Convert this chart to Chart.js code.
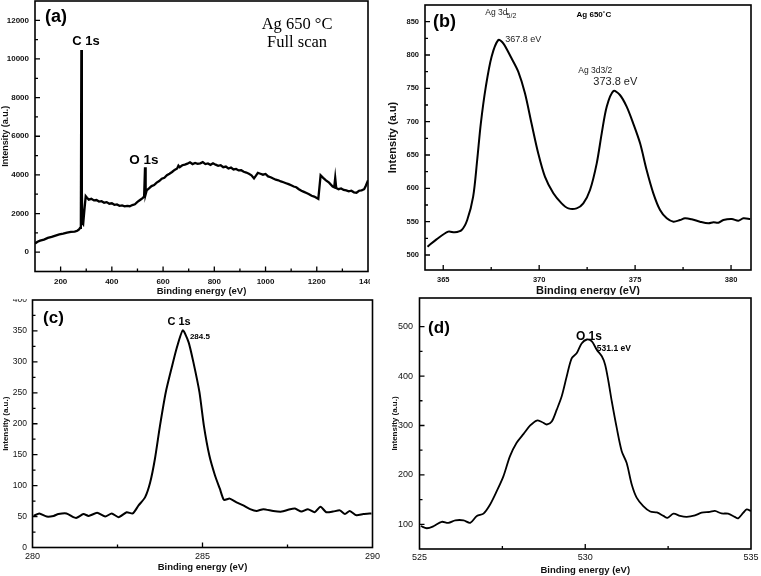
<!DOCTYPE html>
<html>
<head>
<meta charset="utf-8">
<script src="https://cdn.jsdelivr.net/npm/chart.js@4.4.1/dist/chart.umd.min.js"></script>
<style>
  html,body{margin:0;padding:0;background:#fff;width:761px;height:576px;overflow:hidden;}
  canvas{position:absolute;left:0;top:0;}
  #ca{clip-path: inset(0 391px 0 0);}
  #cb{clip-path: inset(0 0 281.5px 0);}
  #cc{clip-path: inset(299.5px 0 0 0);}
</style>
</head>
<body>
<canvas id="ca" width="761" height="576"></canvas>
<canvas id="cb" width="761" height="576"></canvas>
<canvas id="cc" width="761" height="576"></canvas>
<canvas id="cd" width="761" height="576"></canvas>
<script>
// ---------- Panel (a): full scan ----------
const energyA = [100,110,120,135,150,165,180,195,210,225,240,255,265,272,276,279,281,283,285,288,293,298,303,310,320,330,340,350,360,370,380,390,400,410,420,430,440,450,460,470,480,490,500,510,520,526,529.5,532,536,545,555,565,575,585,595,605,615,625,635,645,655,660,665,675,685,695,705,715,725,735,745,755,765,775,785,795,805,815,825,835,845,855,865,875,885,895,905,915,925,935,945,955,962,970,980,990,1000,1010,1020,1030,1040,1050,1060,1070,1080,1090,1100,1110,1120,1130,1140,1150,1160,1170,1180,1190,1200,1206,1215,1225,1236,1248,1262,1268,1272,1276,1285,1295,1305,1315,1325,1335,1345,1355,1365,1375,1385,1392,1400];
const intensityA = [450,540,600,650,740,790,860,920,960,1010,1050,1060,1110,1180,1260,1400,10460,3000,1500,1450,2200,2900,2820,2720,2760,2680,2700,2620,2640,2560,2590,2510,2530,2450,2470,2400,2420,2370,2400,2380,2440,2480,2600,2700,2800,2880,4400,3000,3200,3300,3420,3470,3600,3680,3800,3850,3980,4060,4150,4260,4330,4480,4400,4500,4530,4580,4650,4560,4620,4570,4600,4660,4560,4590,4520,4600,4530,4470,4500,4400,4430,4330,4380,4280,4310,4230,4240,4160,4120,4060,3980,3820,3950,4100,4060,4010,4050,3920,3880,3810,3750,3720,3660,3620,3570,3520,3460,3400,3360,3260,3180,3120,3060,3000,2920,2880,2800,2760,3980,3850,3720,3600,3400,3360,3850,3320,3260,3300,3220,3200,3150,3180,3100,3080,3180,3200,3260,3450,3720];
const xTicksA = [200,400,600,800,1000,1200,1400];
const yTicksA = [0,2000,4000,6000,8000,10000,12000];

// ---------- Panel (b): Ag 3d ----------
const energyB = [364.18,364.65,365.26,365.6,365.96,366.25,366.56,366.77,366.96,367.22,367.52,367.87,368.13,368.56,368.91,369.26,369.6,369.95,370.3,370.74,371.17,371.52,371.95,372.3,372.65,373.0,373.26,373.52,373.87,374.21,374.56,374.9,375.26,375.6,375.95,376.3,376.65,377.0,377.34,377.6,377.95,378.38,378.82,379.08,379.34,379.6,380.04,380.38,380.64,381.0];
const intensityB = [512.5,523.5,535,534,537.5,552.5,587.5,642.5,697.5,752.5,797.5,822.5,817.5,795,775,742.5,697.5,652.5,617.5,592.5,577.5,570,570,577.5,597.5,637.5,682.5,722.5,746,740,722.5,697.5,667.5,627.5,592.5,567.5,555,550,552.5,555,553.5,550,547.5,549,548.5,552.5,554,551.5,555,554];
const xTicksB = [365,370,375,380];
const yTicksB = [500,550,600,650,700,750,800,850];

// ---------- Panel (c): C 1s ----------
const energyC = [280.03,280.2,280.42,280.62,280.76,281.0,281.2,281.3,281.5,281.65,281.9,282.14,282.33,282.53,282.77,282.95,283.12,283.31,283.46,283.6,283.75,283.92,284.1,284.24,284.42,284.59,284.73,284.91,285.04,285.2,285.37,285.51,285.63,285.8,286.0,286.2,286.4,286.59,286.79,287.08,287.33,287.52,287.72,287.91,288.1,288.3,288.47,288.64,288.84,289.04,289.19,289.33,289.53,289.73,289.97];
const intensityC = [51,55,50,51,54,55,49,48,54,51,56,50,55,49,57,55,68,81,105,143,197,251,292,322,351,332,300,251,197,149,116,95,77,79,73,68,62,59,62,59,58,61,63,58,62,57,66,57,58,60,54,59,52,54,55];
const xTicksC = [280,285,290];
const yTicksC = [0,50,100,150,200,250,300,350,400];

// ---------- Panel (d): O 1s ----------
const energyD = [525.04,525.22,525.42,525.67,525.87,526.08,526.33,526.53,526.73,526.93,527.13,527.33,527.53,527.73,527.93,528.14,528.34,528.54,528.69,528.84,528.99,529.14,529.29,529.44,529.59,529.74,529.89,530.05,530.2,530.35,530.5,530.6,530.7,530.8,530.95,531.1,531.25,531.4,531.55,531.75,531.96,532.16,532.36,532.48,532.66,532.86,533.06,533.31,533.51,533.76,533.91,534.11,534.31,534.51,534.61,534.77,534.87,535.0];
const intensityD = [96.6,92,96,105,103,108,108,103,117,121.5,140,167,197,238,265,283,300,310,307,302,308,332,359,399,436,446,466,474,470,453,440,423,389,349,295,248,224,181,154,137,126,124,117,113,121.5,117,115,118,123.5,125,127,122,121.5,115,112,123.5,130,127];
const xTicksD = [525,530,535];
const yTicksD = [100,200,300,400,500];

const SANS = "'Liberation Sans', Arial, sans-serif";
const SERIF = "'Liberation Serif', 'Times New Roman', serif";

function mids(arr){ const o=[]; for(let i=0;i<arr.length-1;i++) o.push((arr[i]+arr[i+1])/2); return o; }

const framePlugin = {
  id: 'frame',
  afterDraw(chart, args, opts) {
    const {ctx, chartArea: a} = chart;
    const xs = chart.scales.x, ys = chart.scales.y;
    ctx.save();
    ctx.strokeStyle = '#000';
    ctx.lineWidth = opts.lw || 1.6;
    ctx.strokeRect(a.left, a.top, a.right - a.left, a.bottom - a.top);
    ctx.lineWidth = 1.3;
    ctx.beginPath();
    const M = 5, m = 3;
    opts.xMajor.forEach(v => { const p = xs.getPixelForValue(v); if (p>a.left+1 && p<a.right-1){ ctx.moveTo(p, a.bottom); ctx.lineTo(p, a.bottom - M);} });
    mids(opts.xMajor).forEach(v => { const p = xs.getPixelForValue(v); ctx.moveTo(p, a.bottom); ctx.lineTo(p, a.bottom - m); });
    opts.yMajor.forEach(v => { const p = ys.getPixelForValue(v); if (p>a.top+1 && p<a.bottom-1){ ctx.moveTo(a.left, p); ctx.lineTo(a.left + M, p);} });
    mids(opts.yMajor).forEach(v => { const p = ys.getPixelForValue(v); ctx.moveTo(a.left, p); ctx.lineTo(a.left + m, p); });
    ctx.stroke();
    (opts.notes || []).forEach(n => {
      ctx.font = n.font;
      ctx.fillStyle = n.color || '#000';
      ctx.textAlign = n.align || 'left';
      ctx.textBaseline = 'middle';
      ctx.fillText(n.text, xs.getPixelForValue(n.x), ys.getPixelForValue(n.y) + (n.dy || 0));
    });
    ctx.restore();
  }
};

function makeChart(id, cfg) {
  const {L, T, R, B, yw, xh, xs, ys, xmin, xmax, ymin, ymax, xTicks, yTicks,
         tickFontX, tickFontY, padX, padY, yTitle, xTitle, yTitleFont, xTitleFont, yTitlePad,
         tension, lw, notes} = cfg;
  return new Chart(document.getElementById(id), {
    type: 'line',
    data: { datasets: [{
      data: xs.map((x, i) => ({x, y: ys[i]})),
      borderColor: '#000', borderWidth: lw, pointRadius: 0, tension: tension, fill: false
    }]},
    options: {
      responsive: false, animation: false, devicePixelRatio: 1,
      layout: { padding: { left: L - yw, top: T, right: 761 - R, bottom: 576 - B - xh } },
      plugins: { legend: {display: false}, tooltip: {enabled: false},
        frame: { xMajor: xTicks, yMajor: yTicks, notes } },
      scales: {
        x: {
          type: 'linear', min: xmin, max: xmax,
          grid: { display: false, drawTicks: false }, border: { display: false },
          afterBuildTicks: s => { s.ticks = xTicks.map(v => ({value: v})); },
          afterFit: s => { s.height = xh; s.paddingLeft = 0; s.paddingRight = 0; s.paddingTop = 0; s.paddingBottom = 0; },
          ticks: { autoSkip: false, maxRotation: 0, padding: padX, color: '#111', font: tickFontX,
                   callback: v => String(v) },
          title: { display: true, text: xTitle, color: '#111', font: xTitleFont, padding: {top: 0, bottom: 0} }
        },
        y: {
          type: 'linear', min: ymin, max: ymax,
          grid: { display: false, drawTicks: false }, border: { display: false },
          afterBuildTicks: s => { s.ticks = yTicks.map(v => ({value: v})); },
          afterFit: s => { s.width = yw; s.paddingLeft = 0; s.paddingRight = 0; s.paddingTop = 0; s.paddingBottom = 0; },
          ticks: { autoSkip: false, padding: padY, color: '#111', font: tickFontY,
                   callback: v => String(v) },
          title: { display: true, text: yTitle, color: '#111', font: yTitleFont, padding: {top: yTitlePad, bottom: 0} }
        }
      }
    },
    plugins: [framePlugin]
  });
}

const f = (size, weight, fam) => ({ family: fam || SANS, size, weight: weight || 'normal', lineHeight: 1 });

// (a)
makeChart('ca', {
  L: 35, T: 1, R: 368, B: 271.5, yw: 35, xh: 24.75,
  xs: energyA, ys: intensityA, xmin: 100, xmax: 1400, ymin: -1000, ymax: 13000,
  xTicks: xTicksA, yTicks: yTicksA,
  tickFontX: f(8, 'bold'), tickFontY: f(8, 'bold'), padX: 6.5, padY: 6,
  yTitle: 'Intensity (a.u.)', xTitle: 'Binding energy (eV)',
  yTitleFont: f(9, 'bold'), xTitleFont: f(9.5, 'bold'), yTitlePad: 1.5,
  tension: 0, lw: 2.3,
  notes: [
    {text: '(a)', x: 139, y: 12173, font: 'bold 18px ' + SANS},
    {text: 'Ag 650 \u00B0C', x: 1123, y: 11760, font: '16.5px ' + SERIF, align: 'center'},
    {text: 'Full scan', x: 1123, y: 10828, font: '16.5px ' + SERIF, align: 'center'},
    {text: 'C 1s', x: 299, y: 10895, font: 'bold 13px ' + SANS, align: 'center'},
    {text: 'O 1s', x: 525, y: 4771, font: 'bold 13.5px ' + SANS, align: 'center'}
  ]
});

// (b)
makeChart('cb', {
  L: 425, T: 5, R: 751, B: 270, yw: 37.5, xh: 26.5,
  xs: energyB, ys: intensityB, xmin: 364.05, xmax: 381.04, ymin: 477.5, ymax: 875,
  xTicks: xTicksB, yTicks: yTicksB,
  tickFontX: f(7.5, 'bold'), tickFontY: f(7.5, 'bold'), padX: 6.25, padY: 6,
  yTitle: 'Intensity (a.u)', xTitle: 'Binding energy (eV)',
  yTitleFont: f(11, 'bold'), xTitleFont: f(11, 'bold'), yTitlePad: 0,
  tension: 0.3, lw: 2,
  notes: [
    {text: '(b)', x: 364.47, y: 850, font: 'bold 18px ' + SANS},
    {text: 'Ag 3d', x: 367.19, y: 863, font: '8.5px ' + SANS, color: '#222'},
    {text: '5/2', x: 368.3, y: 863, dy: 3, font: '7px ' + SANS, color: '#222'},
    {text: '367.8 eV', x: 368.23, y: 823, font: '9px ' + SANS, color: '#222'},
    {text: 'Ag 3d3/2', x: 372.04, y: 776, font: '8.5px ' + SANS, color: '#222'},
    {text: '373.8 eV', x: 372.82, y: 759.5, font: '11px ' + SANS, color: '#222'},
    {text: 'Ag 650\u02DAC', x: 371.95, y: 860, font: 'bold 8px ' + SANS}
  ]
});

// (c)
makeChart('cc', {
  L: 32.5, T: 300, R: 372.5, B: 547.5, yw: 32.5, xh: 24.25,
  xs: energyC, ys: intensityC, xmin: 280, xmax: 290, ymin: 0, ymax: 400,
  xTicks: xTicksC, yTicks: yTicksC,
  tickFontX: f(9), tickFontY: f(8.5), padX: 4.7, padY: 5.5,
  yTitle: 'Intensity (a.u.)', xTitle: 'Binding energy (eV)',
  yTitleFont: f(8, 'bold'), xTitleFont: f(9.5, 'bold'), yTitlePad: 1.5,
  tension: 0.2, lw: 2,
  notes: [
    {text: '(c)', x: 280.31, y: 371, font: 'bold 17px ' + SANS},
    {text: 'C 1s', x: 284.31, y: 365, font: 'bold 11px ' + SANS, align: 'center'},
    {text: '284.5', x: 284.63, y: 340.7, font: 'bold 8px ' + SANS}
  ]
});

// (d)
makeChart('cd', {
  L: 419.5, T: 298, R: 751, B: 549, yw: 28.5, xh: 25.75,
  xs: energyD, ys: intensityD, xmin: 525, xmax: 535, ymin: 50, ymax: 558,
  xTicks: xTicksD, yTicks: yTicksD,
  tickFontX: f(9), tickFontY: f(9), padX: 4.5, padY: 6.5,
  yTitle: 'Intensity (a.u.)', xTitle: 'Binding energy (eV)',
  yTitleFont: f(8, 'bold'), xTitleFont: f(9.5, 'bold'), yTitlePad: 0,
  tension: 0.3, lw: 1.8,
  notes: [
    {text: '(d)', x: 525.26, y: 497, font: 'bold 17px ' + SANS},
    {text: 'O 1s', x: 530.11, y: 480, font: 'bold 12px ' + SANS, align: 'center'},
    {text: '531.1 eV', x: 530.35, y: 456, font: 'bold 8.5px ' + SANS}
  ]
});
</script>
</body>
</html>
